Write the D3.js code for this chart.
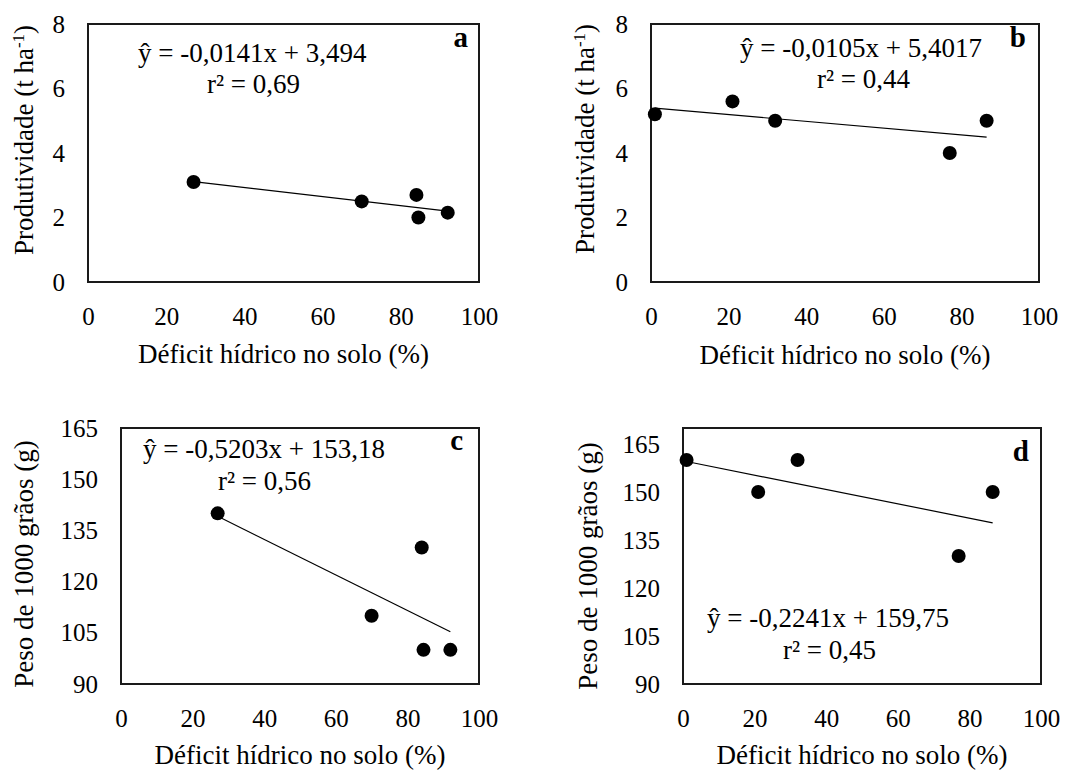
<!DOCTYPE html>
<html>
<head>
<meta charset="utf-8">
<script src="https://cdn.jsdelivr.net/npm/d3@7"></script>
<style>
body { margin: 0; background: #fff; }
svg text { font-family: "Liberation Serif", "Times New Roman", serif; fill: #000; }
</style>
</head>
<body>
<div id="chart"></div>
<script>
// valores
var deficitAC = [27, 70, 84, 84.5, 92];
var deficitBD = [1, 21, 32, 77, 86.5];
var prodA = [3.1, 2.5, 2.7, 2.0, 2.15];
var prodB = [5.2, 5.6, 5.0, 4.0, 5.0];
var pesoC = [140, 110, 130, 100, 100];
var pesoD = [160, 150, 160, 130, 150];

var xTicks = [0, 20, 40, 60, 80, 100];
var prodTicks = [0, 2, 4, 6, 8];
var pesoTicks = [90, 105, 120, 135, 150, 165];

var slopes = [-0.0141, -0.0105, -0.5203, -0.2241];
var intercepts = [3.494, 5.4017, 153.18, 159.75];
var equations = ["ŷ = -0,0141x + 3,494", "ŷ = -0,0105x + 5,4017", "ŷ = -0,5203x + 153,18", "ŷ = -0,2241x + 159,75"];
var r2Labels = ["r² = 0,69", "r² = 0,44", "r² = 0,56", "r² = 0,45"];
var letters = ["a", "b", "c", "d"];
var xTitle = "Déficit hídrico no solo (%)";

var width = 1083, height = 771;
var serif = "'Liberation Serif', 'Times New Roman', serif";

var svg = d3.select("#chart")
    .append("svg")
    .attr("width", width)
    .attr("height", height);

// posição de cada painel
var panels = [
    { x: deficitAC, y: prodA, yDomain: [0, 8], yTicks: prodTicks, box: [88, 479, 24, 282],
      eq: [138, 62], r2: [207, 93], letter: [468, 47], ylab: [33, 140], xlab: 363, ylabel: "prod" },
    { x: deficitBD, y: prodB, yDomain: [0, 8], yTicks: prodTicks, box: [651, 1039, 24, 282],
      eq: [740, 57], r2: [817, 88], letter: [1026, 47], ylab: [594, 139], xlab: 364, ylabel: "prod" },
    { x: deficitAC, y: pesoC, yDomain: [90, 165], yTicks: pesoTicks, box: [121, 479, 428, 684],
      eq: [143, 458], r2: [218, 490], letter: [463, 450], ylab: [33, 564], xlab: 764, ylabel: "peso" },
    { x: deficitBD, y: pesoD, yDomain: [90, 170], yTicks: pesoTicks, box: [683, 1041, 428, 684],
      eq: [707, 627], r2: [783, 659], letter: [1029, 461], ylab: [597, 566], xlab: 764, ylabel: "peso" }
];

panels.forEach(function (p, i) {
    var g = svg.append("g");

    var xScale = d3.scaleLinear().domain([0, 100]).range([p.box[0], p.box[1]]);
    var yScale = d3.scaleLinear().domain(p.yDomain).range([p.box[3], p.box[2]]);

    // eixos
    var xAxis = g.append("g")
        .attr("transform", "translate(0," + p.box[3] + ")")
        .call(d3.axisBottom(xScale).tickValues(xTicks).tickSize(0).tickPadding(25));
    var yAxis = g.append("g")
        .attr("transform", "translate(" + p.box[0] + ",0)")
        .call(d3.axisLeft(yScale).tickValues(p.yTicks).tickSize(0).tickPadding(23));
    [xAxis, yAxis].forEach(function (a) {
        a.select(".domain").remove();
        a.attr("font-family", serif).attr("font-size", 25);
    });

    // moldura
    g.append("rect")
        .attr("x", p.box[0])
        .attr("y", p.box[2])
        .attr("width", p.box[1] - p.box[0])
        .attr("height", p.box[3] - p.box[2])
        .attr("fill", "none")
        .attr("stroke", "#1a1a1a")
        .attr("stroke-width", 2);

    // linha de tendência
    var ext = d3.extent(p.x);
    var line = d3.line()
        .x(function (d) { return xScale(d); })
        .y(function (d) { return yScale(slopes[i] * d + intercepts[i]); });
    g.append("path")
        .datum(ext)
        .attr("d", line)
        .attr("fill", "none")
        .attr("stroke", "#000")
        .attr("stroke-width", 1.2);

    // pontos
    g.selectAll("circle")
        .data(p.x)
        .enter()
        .append("circle")
        .attr("cx", function (d) { return xScale(d); })
        .attr("cy", function (d, j) { return yScale(p.y[j]); })
        .attr("r", 7)
        .attr("fill", "#000");

    // textos
    g.append("text").attr("x", p.eq[0]).attr("y", p.eq[1])
        .style("font-size", "27px").text(equations[i]);
    g.append("text").attr("x", p.r2[0]).attr("y", p.r2[1])
        .style("font-size", "27px").text(r2Labels[i]);
    g.append("text").attr("x", p.letter[0]).attr("y", p.letter[1])
        .attr("text-anchor", "end")
        .style("font-size", "29px").style("font-weight", "bold").text(letters[i]);

    g.append("text")
        .attr("x", (p.box[0] + p.box[1]) / 2)
        .attr("y", p.xlab)
        .attr("text-anchor", "middle")
        .style("font-size", "27px")
        .text(xTitle);

    var yl = g.append("text")
        .attr("transform", "translate(" + p.ylab[0] + "," + p.ylab[1] + ") rotate(-90)")
        .attr("text-anchor", "middle")
        .style("font-size", "27px");
    if (p.ylabel == "prod") {
        yl.append("tspan").text("Produtividade (t ha");
        yl.append("tspan").attr("dy", -9).style("font-size", "17px").text("-1");
        yl.append("tspan").attr("dy", 9).text(")");
    } else {
        yl.text("Peso de 1000 grãos (g)");
    }
});
</script>
</body>
</html>
